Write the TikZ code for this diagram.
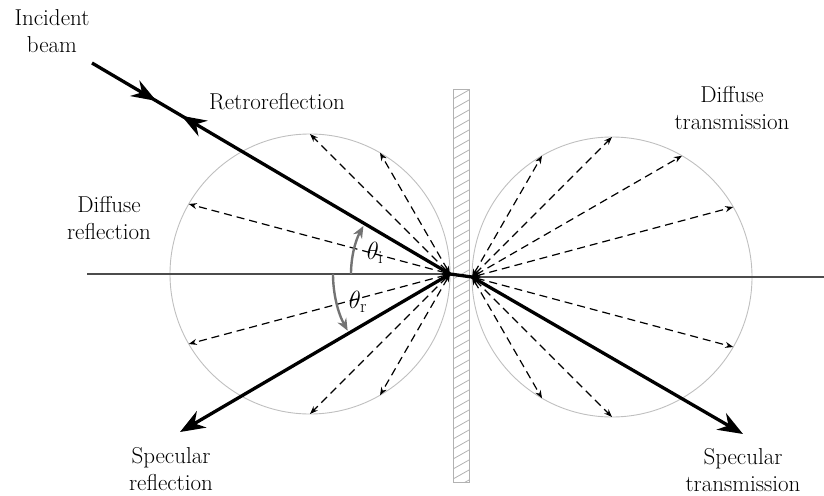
\documentclass[tikz,border=0pt]{standalone}
\usepackage{fontspec}
\usetikzlibrary{arrows.meta,calc,decorations.markings}
\definecolor{circgray}{gray}{0.75}
\definecolor{axisgray}{gray}{0.3}
\definecolor{anglegray}{gray}{0.45}
\definecolor{plategray}{gray}{0.7}
\begin{document}
\begin{tikzpicture}[x=1pt,y=-1pt,
  beam/.style={line width=3.3pt,black},
  bigtip/.style={-{Stealth[length=25pt,width=19pt]}},
  diff/.style={line width=1.2pt,black,dash pattern=on 8pt off 5pt,
    {Stealth[length=8pt,width=6pt]}-{Stealth[length=8pt,width=6pt]}},
  lobe/.style={draw=circgray,line width=0.9pt},
  axisline/.style={draw=axisgray,line width=1.2pt},
  anglearc/.style={draw=anglegray,line width=2.4pt,-{Stealth[length=12pt,width=10pt]}},
  lbl/.style={font=\fontsize{23}{27}\selectfont\addfontfeatures{FakeBold=0.5},align=center,inner sep=0pt},
  anglbl/.style={font=\fontsize{26}{27}\selectfont,inner sep=0pt},
  plate/.style={draw=plategray,line width=1pt,minimum width=16pt,minimum height=393pt,inner sep=0pt,
    path picture={
      \foreach \k in {0,...,41}{
        \draw[plategray,line width=0.8pt]
          ($(path picture bounding box.north west)+(0,{10*\k})$) -- ++(16,-9);
      }}},
]
\useasboundingbox (0,0) rectangle (824,495);
% key points
\coordinate (P1) at (450,274);
\coordinate (P2) at (472,277);
\coordinate (C1) at (310,274);
\coordinate (C2) at (612,277);
\coordinate (S) at (92,63);
\coordinate (R) at (180,432);
\coordinate (T) at (743,434);
\coordinate (HL) at (87,274);
\coordinate (HR) at (824,277);
% lobes
\draw[lobe] (C1) circle[radius=140];
\draw[lobe] (C2) circle[radius=140];
% plate
\node[plate] (plate) at (461,285.5) {};
% horizontal normal
\draw[axisline] (HL) -- (P1);
\draw[axisline] (P2) -- (HR);
% diffuse reflection
\foreach \a in {15,45,60}{
  \coordinate (LU\a) at ($(P1)+({180+\a}:{280*cos(\a)})$);
  \coordinate (LD\a) at ($(P1)+({180-\a}:{280*cos(\a)})$);
  \draw[diff] (P1) -- (LU\a);
  \draw[diff] (P1) -- (LD\a);
}
% diffuse transmission
\foreach \a in {15,30,45,60}{
  \coordinate (RU\a) at ($(P2)+({-\a}:{280*cos(\a)})$);
  \draw[diff] (P2) -- (RU\a);
}
\foreach \a in {15,45,60}{
  \coordinate (RD\a) at ($(P2)+({\a}:{280*cos(\a)})$);
  \draw[diff] (P2) -- (RD\a);
}
% beams
\draw[beam,postaction={decorate},decoration={markings,
  mark=at position 0.18 with {\arrow{Stealth[length=25pt,width=18pt]}},
  mark=at position 0.25 with {\arrowreversed{Stealth[length=25pt,width=18pt]}}}]
  (S) -- (P1);
\draw[beam] (P1) -- (P2);
\draw[beam,bigtip] (P1) -- (R);
\draw[beam,bigtip] (P2) -- (T);
% angle arcs
\draw[anglearc] ($(P1)+(180:99)$) arc[start angle=180,end angle=209,radius=99];
\draw[anglearc] ($(P1)+(180:117)$) arc[start angle=180,end angle=151,radius=117];
\node[anglbl] (thi) at (375,253) {$\theta_{\mathrm{i}}$};
\node[anglbl] (thr) at (358,302) {$\theta_{\mathrm{r}}$};
% labels
\node[lbl] (inc) at (52,31) {Incident\\beam};
\node[lbl] (retro) at (277,102) {Retroreflection};
\node[lbl] (dref) at (109,218) {Diffuse\\reflection};
\node[lbl] (sref) at (171,469) {Specular\\reflection};
\node[lbl] (dtr) at (732,108) {Diffuse\\transmission};
\node[lbl] (str) at (743,470) {Specular\\transmission};
\end{tikzpicture}
\end{document}
